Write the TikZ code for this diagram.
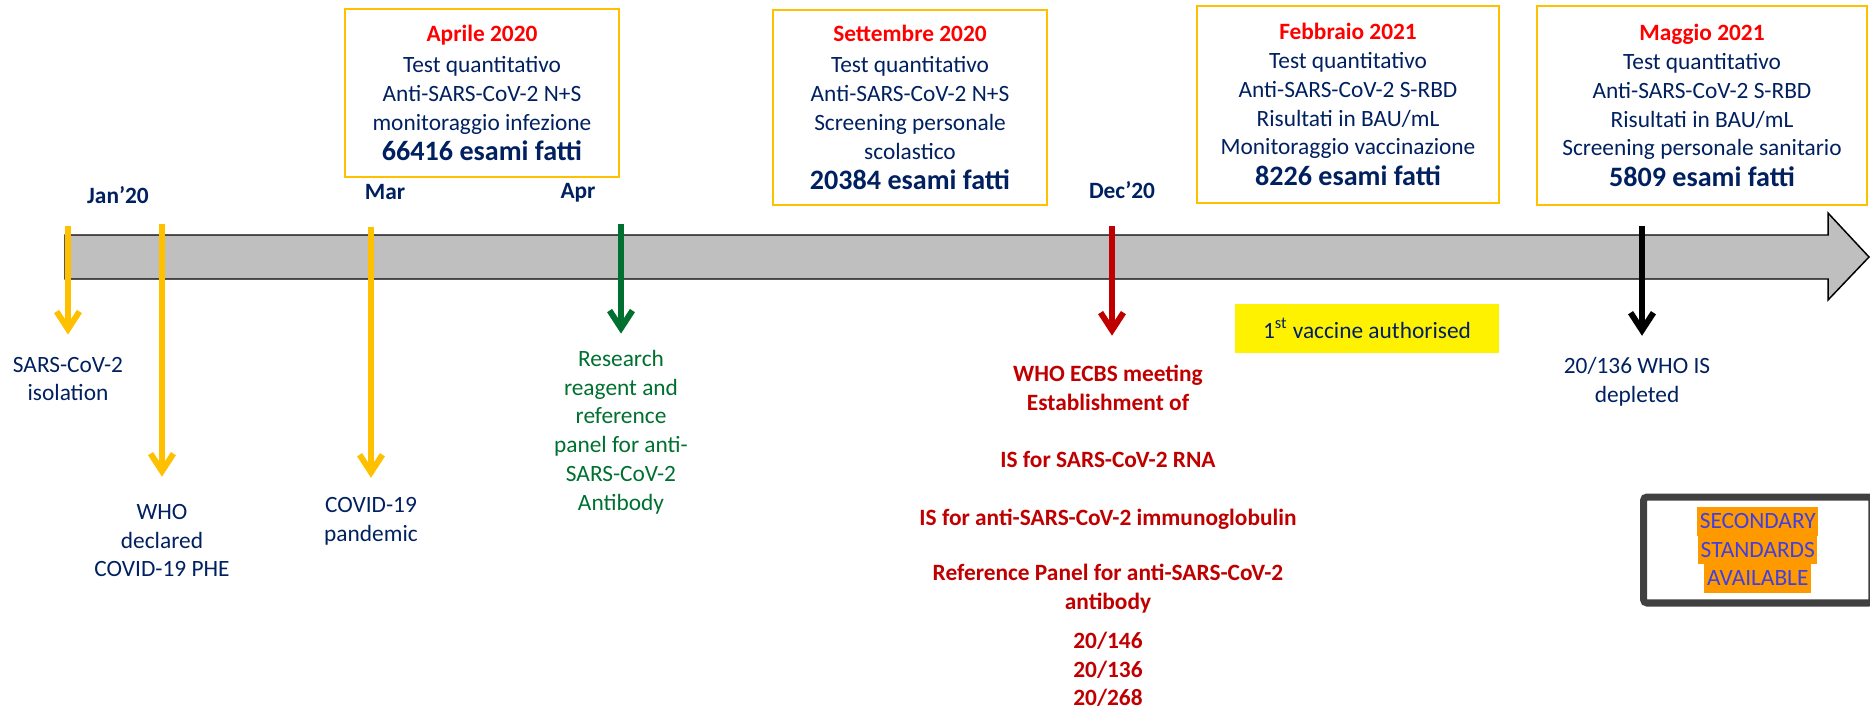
\documentclass[tikz,border=0pt]{standalone}
\usepackage{fontspec}
\setmainfont{Carlito}
\usetikzlibrary{arrows.meta}

\definecolor{navy}{RGB}{0,32,96}
\definecolor{boxgold}{RGB}{255,192,0}
\definecolor{titlered}{RGB}{255,0,0}
\definecolor{darkred}{RGB}{192,0,0}
\definecolor{leafgreen}{RGB}{0,112,48}
\definecolor{bargray}{RGB}{191,191,191}
\definecolor{framegray}{RGB}{64,64,64}
\definecolor{hlorange}{RGB}{255,153,0}
\definecolor{stdblue}{RGB}{64,64,224}

\newcommand{\regfont}{\fontsize{13.3}{16.4}\selectfont}
\newcommand{\bigbold}{\fontsize{16}{19}\selectfont\bfseries}
\setlength{\fboxsep}{0pt}
\newcommand{\hlline}[1]{\colorbox{hlorange}{\hspace{1.5pt}\rule[-4.2pt]{0pt}{16.4pt}#1\hspace{1.5pt}}}

\tikzset{
  datebox/.style={draw=boxgold, line width=1.5pt, align=center, font=\regfont, text=navy, inner sep=0pt},
  monthlabel/.style={font=\regfont\bfseries, text=navy},
  evtlabel/.style={align=center, font=\regfont, inner sep=0pt},
  evtarrow/.style={line width=3.4pt, -{Straight Barb[length=10pt, width=13pt]}},
}

\begin{document}
\begin{tikzpicture}[x=0.02cm, y=-0.02cm]
% one unit is one pixel of the slide, y runs downwards
\useasboundingbox (0,0) rectangle (1870,710);

% the time bar
\draw[fill=bargray, line width=0.85pt] (65,235) -- (1828,235) -- (1828,213) -- (1869,257) -- (1828,300) -- (1828,279) -- (65,279) -- cycle;

% months above the bar
\node[monthlabel] (jan) at (118,195) {Jan’20};
\node[monthlabel] (mar) at (385,192) {Mar};
\node[monthlabel] (apr) at (578,193) {Apr};
\node[monthlabel] (dec) at (1122,190) {Dec’20};

% test boxes
\node[datebox, minimum width=5.48cm, minimum height=3.36cm] (aprile) at (482,93) {\textcolor{titlered}{\bfseries Aprile 2020}\\[1.5pt] Test quantitativo\\ Anti-SARS-CoV-2 N+S\\ monitoraggio infezione\\[1pt] {\bigbold 66416 esami fatti}};
\node[datebox, minimum width=5.48cm, minimum height=3.9cm] (settembre) at (910,107.5) {\textcolor{titlered}{\bfseries Settembre 2020}\\[1.5pt] Test quantitativo\\ Anti-SARS-CoV-2 N+S\\ Screening personale\\ scolastico\\[1pt] {\bigbold 20384 esami fatti}};
\node[datebox, minimum width=6.04cm, minimum height=3.94cm] (febbraio) at (1348,104.5) {\textcolor{titlered}{\bfseries Febbraio 2021}\\ Test quantitativo\\ Anti-SARS-CoV-2 S-RBD\\ Risultati in BAU/mL\\ Monitoraggio vaccinazione\\[1pt] {\bigbold 8226 esami fatti}};
\node[datebox, minimum width=6.6cm, minimum height=3.98cm] (maggio) at (1702,105.5) {\textcolor{titlered}{\bfseries Maggio 2021}\\ Test quantitativo\\ Anti-SARS-CoV-2 S-RBD\\ Risultati in BAU/mL\\ Screening personale sanitario\\[1pt] {\bigbold 5809 esami fatti}};

% events below the bar
\node[evtlabel, text=navy] (iso) at (68,379) {SARS-CoV-2\\isolation};
\node[evtlabel, text=navy] (phe) at (162,540.5) {WHO\\declared\\COVID-19 PHE};
\node[evtlabel, text=navy] (pand) at (371,521) {COVID-19\\pandemic};
\node[evtlabel, text=leafgreen] (panel) at (621,432) {Research\\reagent and\\reference\\panel for anti-\\SARS-CoV-2\\Antibody};
\node[evtlabel, text=darkred, font=\regfont\bfseries] (ecbs) at (1108,536) {WHO ECBS meeting\\ Establishment of\\[16.4pt] IS for SARS-CoV-2 RNA\\[16.4pt] IS for anti-SARS-CoV-2 immunoglobulin\\[15pt] Reference Panel for anti-SARS-CoV-2\\ antibody\\[5.7pt] 20/146\\ 20/136\\ 20/268};
\node[evtlabel, text=navy] (depl) at (1637,381.5) {20/136 WHO IS\\depleted};

\node[fill=yellow, minimum width=5.28cm, minimum height=0.98cm, font=\regfont, text=navy] (vacc) at (1367,328.5) {1\textsuperscript{st} vaccine authorised};
\node[draw=framegray, line width=4pt, rounded corners=2pt, minimum width=4.57cm, minimum height=2.12cm, align=center, font=\regfont, text=stdblue] (std) at (1757.75,550) {\hlline{SECONDARY}\\\hlline{STANDARDS}\\\hlline{AVAILABLE}};

% arrows from the bar down to the events
\coordinate (t1) at (68,226);
\coordinate (t2) at (162,224);
\coordinate (t3) at (371,227);
\coordinate (t4) at (621,224);
\coordinate (t5) at (1112,226);
\coordinate (t6) at (1642,226);
\draw[evtarrow, boxgold, shorten >=0.44cm] (t1) -- (t1 |- iso.north);
\draw[evtarrow, boxgold, shorten >=0.54cm] (t2) -- (t2 |- phe.north);
\draw[evtarrow, boxgold, shorten >=0.38cm] (t3) -- (t3 |- pand.north);
\draw[evtarrow, leafgreen, shorten >=0.32cm] (t4) -- (t4 |- panel.north);
\draw[evtarrow, darkred, shorten >=0.58cm] (t5) -- (t5 |- ecbs.north);
\draw[evtarrow, black, shorten >=0.42cm] (t6) -- (t6 |- depl.north);
\end{tikzpicture}
\end{document}
